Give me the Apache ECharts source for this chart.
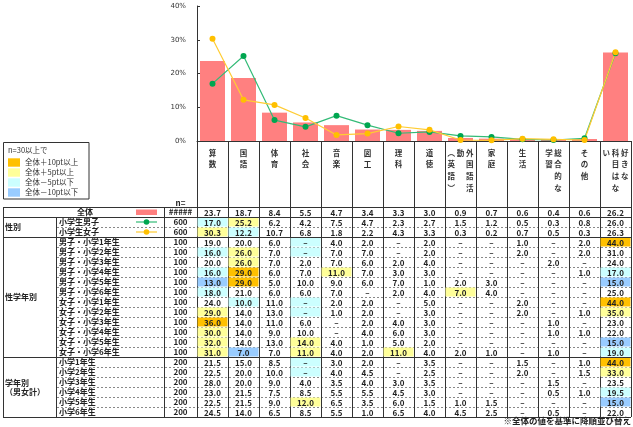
<!DOCTYPE html>
<html>
<head>
<meta charset="utf-8">
<script src="https://cdn.jsdelivr.net/npm/echarts@6/dist/echarts.min.js"></script>
<style>
html, body { margin: 0; padding: 0; background: #fff; }
#main { width: 633px; height: 427px; }
</style>
</head>
<body>
<div id="main"></div>
<script>
"use strict";
var jp = '"Noto Sans CJK JP", sans-serif';

// chart / table data
var subjects = ['算数', '国語', '体育', '社会', '音楽', '図工', '理科', '道徳', '外国語活動\n（英語）', '家庭', '生活', '総合的な学習', 'その他', '好きな\n科目はない'];
var allValues = [23.7, 18.7, 8.4, 5.5, 4.7, 3.4, 3.3, 3.0, 0.9, 0.7, 0.6, 0.4, 0.6, 26.2];
var boysValues = [17.0, 25.2, 6.2, 4.2, 7.5, 4.7, 2.3, 2.7, 1.5, 1.2, 0.5, 0.3, 0.8, 26.0];
var girlsValues = [30.3, 12.2, 10.7, 6.8, 1.8, 2.2, 4.3, 3.3, 0.3, 0.2, 0.7, 0.5, 0.3, 26.3];
var boysByGrade = [
	[19, 20, 6, 0, 4, 2, 0, 2, 0, 0, 1, 0, 2, 44],
	[16, 26, 7, 0, 7, 7, 0, 2, 0, 0, 2, 0, 2, 31],
	[20, 26, 7, 2, 7, 6, 2, 4, 0, 0, 0, 2, 0, 24],
	[16, 29, 6, 7, 11, 7, 3, 3, 0, 0, 0, 0, 1, 17],
	[13, 29, 5, 10, 9, 6, 7, 1, 2, 3, 0, 0, 0, 15],
	[18, 21, 6, 6, 7, 0, 2, 4, 7, 4, 0, 0, 0, 25]
];
var girlsByGrade = [
	[24, 10, 11, 0, 2, 2, 0, 5, 0, 0, 2, 0, 0, 44],
	[29, 14, 13, 0, 1, 2, 0, 3, 0, 0, 2, 0, 1, 35],
	[36, 14, 11, 6, 0, 2, 4, 3, 0, 0, 0, 1, 0, 23],
	[30, 14, 9, 10, 0, 4, 6, 3, 0, 0, 0, 1, 1, 22],
	[32, 14, 13, 14, 4, 1, 5, 2, 0, 0, 0, 0, 0, 15],
	[31, 7, 7, 11, 4, 2, 11, 4, 2, 1, 0, 1, 0, 19]
];
var gradeTotals = [
	[21.5, 15, 8.5, 0, 3, 2, 0, 3.5, 0, 0, 1.5, 0, 1, 44],
	[22.5, 20, 10, 0, 4, 4.5, 0, 2.5, 0, 0, 2, 0, 1.5, 33],
	[28, 20, 9, 4, 3.5, 4, 3, 3.5, 0, 0, 0, 1.5, 0, 23.5],
	[23, 21.5, 7.5, 8.5, 5.5, 5.5, 4.5, 3, 0, 0, 0, 0.5, 1, 19.5],
	[22.5, 21.5, 9, 12, 6.5, 3.5, 6, 1.5, 1, 1.5, 0, 0, 0, 15],
	[24.5, 14, 6.5, 8.5, 5.5, 1, 6.5, 4, 4.5, 2.5, 0, 0.5, 0, 22]
];
var rowLabels = ['全体', '小学生男子', '小学生女子',
	'男子・小学1年生', '男子・小学2年生', '男子・小学3年生', '男子・小学4年生', '男子・小学5年生', '男子・小学6年生',
	'女子・小学1年生', '女子・小学2年生', '女子・小学3年生', '女子・小学4年生', '女子・小学5年生', '女子・小学6年生',
	'小学1年生', '小学2年生', '小学3年生', '小学4年生', '小学5年生', '小学6年生'];
var rowCounts = ['#####', '600', '600',
	'100', '100', '100', '100', '100', '100', '100', '100', '100', '100', '100', '100',
	'200', '200', '200', '200', '200', '200'];
var groupLabels = ['性別', '性学年別', '学年別\n（男女計）'];
var groupRows = [[1, 3], [3, 15], [15, 21]];
var legendTitle = 'n=30以上で';
var legendItems = ['全体＋10pt以上', '全体＋5pt以上', '全体－5pt以下', '全体－10pt以下'];
var legendColors = ['#FFC000', '#FFFF99', '#CCFFFF', '#99CCFF'];
var footnote = '※全体の値を基準に降順並び替え';

// layout
var X0 = 197, X1 = 631, AXIS_Y = 141, TABLE_TOP = 207, ROW_H = 10;
var TABLE_BOTTOM = TABLE_TOP + ROW_H * rowLabels.length;

var tableRows = [allValues, boysValues, girlsValues].concat(boysByGrade, girlsByGrade, gradeTotals);
var cellData = [];
tableRows.forEach(function(row, r) {
	row.forEach(function(v, c) {
		cellData.push([c, r, v]);
	});
});

function cellColor(r, c, v) {
	if (r === 0) return null;
	var d = v - allValues[c];
	if (d >= 9.999) return legendColors[0];
	if (d >= 4.999) return legendColors[1];
	if (d <= -9.999) return legendColors[3];
	if (d <= -4.999) return legendColors[2];
	return null;
}

// vertical (tategaki) label: columns of max 4 chars, right to left
function vertical(name) {
	var cols = [];
	name.split('\n').forEach(function(seg) {
		seg = seg.replace('（', '︵').replace('）', '︶');
		for (var i = 0; i < seg.length; i += 4) cols.push(seg.slice(i, i + 4));
	});
	var n = Math.max.apply(null, cols.map(function(c) { return c.length; }));
	var lines = [];
	for (var r = 0; r < n; r++) {
		lines.push(cols.slice().reverse().map(function(c) { return c[r] || '　'; }).join(' '));
	}
	return lines.join('\n');
}

var graphics = [];
function hline(y, x1, x2, dashed) {
	graphics.push({ type: 'line', z: 100, shape: { x1: x1, y1: y + 0.5, x2: x2, y2: y + 0.5 },
		style: { stroke: dashed ? '#888' : '#333', lineWidth: 1, lineDash: dashed ? [2, 2] : null } });
}
function vline(x, y1, y2) {
	graphics.push({ type: 'line', z: 100, shape: { x1: x + 0.5, y1: y1, x2: x + 0.5, y2: y2 },
		style: { stroke: '#333', lineWidth: 1 } });
}
function text(str, x, y, opts) {
	opts = opts || {};
	graphics.push({ type: 'text', z: 100, x: x, y: y,
		style: { text: str, fill: opts.color || '#222', align: opts.align || 'left', verticalAlign: 'middle',
			font: (opts.weight || 'bold') + ' ' + (opts.size || 8) + 'px ' + jp, lineHeight: opts.lineHeight || 10 } });
}

// legend box
graphics.push({ type: 'rect', z: 90, shape: { x: 3.5, y: 142.5, width: 85.5, height: 56.5 },
	style: { fill: '#fff', stroke: '#333', lineWidth: 1 } });
text(legendTitle, 8, 150.5, { weight: 'normal', size: 7.5, color: '#333' });
legendItems.forEach(function(item, i) {
	var cy = 162.5 + i * 10;
	graphics.push({ type: 'rect', z: 100, shape: { x: 8, y: cy - 4.2, width: 12, height: 8.4 },
		style: { fill: legendColors[i] } });
	text(item, 25, cy, { weight: 'normal', size: 7.5, color: '#333' });
});

// table frame
hline(TABLE_TOP, 3, X1);
hline(TABLE_TOP + ROW_H, 3, X1);
groupRows.forEach(function(g) { hline(TABLE_TOP + ROW_H * g[1], 3, X1); });
for (var r = 1; r < rowLabels.length; r++) {
	var inside = groupRows.some(function(g) { return r > g[0] && r < g[1]; });
	if (inside) hline(TABLE_TOP + ROW_H * r, 57, X0, true);
}
vline(3, TABLE_TOP, TABLE_BOTTOM);
vline(56, TABLE_TOP + ROW_H, TABLE_BOTTOM);
vline(164, TABLE_TOP, TABLE_BOTTOM);
text('n=', 180.5, 202.5, { align: 'center' });
groupLabels.forEach(function(g, i) {
	text(g, 5, TABLE_TOP + ROW_H * (groupRows[i][0] + groupRows[i][1]) / 2, { lineHeight: 9 });
});
// row keys
graphics.push({ type: 'rect', z: 100, shape: { x: 136, y: 209.5, width: 21, height: 5.5 }, style: { fill: '#FF8080' } });
[['#33BB77', '#00A650'], ['#FFCC33', '#FFC000']].forEach(function(c, i) {
	var y = TABLE_TOP + ROW_H * (i + 1.5);
	graphics.push({ type: 'line', z: 100, shape: { x1: 136, y1: y, x2: 157, y2: y }, style: { stroke: c[0], lineWidth: 1.2 } });
	graphics.push({ type: 'circle', z: 101, shape: { cx: 146.5, cy: y, r: 2.8 }, style: { fill: c[1] } });
});
text(footnote, X1, 420.5, { align: 'right', size: 8.5 });

var chart = echarts.init(document.getElementById('main'));
chart.setOption({
	animation: false,
	backgroundColor: '#fff',
	grid: [
		{ left: X0, top: 6, width: X1 - X0, height: AXIS_Y - 6 },
		{ left: X0, top: TABLE_TOP, width: X1 - X0, height: TABLE_BOTTOM - TABLE_TOP }
	],
	xAxis: [{
		type: 'category', gridIndex: 0, data: subjects,
		axisLine: { lineStyle: { color: '#333', width: 1 } },
		axisTick: { show: true, interval: 0, length: TABLE_TOP - AXIS_Y, lineStyle: { color: '#333' } },
		axisLabel: { interval: 0, margin: 6, formatter: vertical, fontFamily: jp, fontSize: 7.5,
			fontWeight: 'bold', lineHeight: 11.7, color: '#333' }
	}, {
		type: 'category', gridIndex: 1, data: subjects,
		axisLine: { show: false }, axisTick: { show: false }, axisLabel: { show: false },
		splitLine: { show: true, interval: 0, lineStyle: { color: '#333', width: 1 } }
	}],
	yAxis: [{
		type: 'value', gridIndex: 0, min: 0, max: 40, interval: 10,
		axisLine: { show: true, lineStyle: { color: '#333' } },
		axisTick: { show: true, inside: true, length: 3, lineStyle: { color: '#333' } },
		splitLine: { show: false },
		axisLabel: { formatter: '{value}%', fontSize: 7, color: '#333', margin: 11, fontFamily: 'DejaVu Sans' }
	}, {
		type: 'category', gridIndex: 1, data: rowLabels, inverse: true,
		axisLine: { show: false }, axisTick: { show: false },
		splitLine: { show: true, interval: 0, lineStyle: { color: '#888', type: [2, 2] } },
		axisLabel: {
			interval: 0, margin: X0 - 3, align: 'left',
			formatter: function(name, i) {
				if (i === 0) return '{gT|}{nmT|' + name + '}{sw|}{n|' + rowCounts[i] + '}';
				return '{g|}{nm|' + name + '}{sw|}{n|' + rowCounts[i] + '}';
			},
			rich: {
				g: { width: 56 },
				gT: { width: 74 },
				nm: { width: 77, align: 'left', fontSize: 8, fontWeight: 'bold', color: '#222', fontFamily: jp },
				nmT: { width: 59, align: 'left', fontSize: 8, fontWeight: 'bold', color: '#222', fontFamily: jp },
				sw: { width: 28 },
				n: { width: 33, align: 'center', fontSize: 8, fontWeight: 'bold', color: '#222', fontFamily: jp }
			}
		}
	}],
	series: [{
		name: '全体', type: 'bar', data: allValues, barWidth: 25,
		itemStyle: { color: '#FF8080' }
	}, {
		name: '小学生男子', type: 'line', data: boysValues, symbol: 'circle', symbolSize: 6,
		lineStyle: { color: '#33BB77', width: 1.2 }, itemStyle: { color: '#00A650' }
	}, {
		name: '小学生女子', type: 'line', data: girlsValues, symbol: 'circle', symbolSize: 6,
		lineStyle: { color: '#FFCC33', width: 1.2 }, itemStyle: { color: '#FFC000' }
	}, {
		name: 'table', type: 'custom', xAxisIndex: 1, yAxisIndex: 1, data: cellData,
		renderItem: function(params, api) {
			var c = api.value(0), r = api.value(1), v = api.value(2);
			var p = api.coord([c, r]);
			var s = api.size([1, 1]);
			var fill = cellColor(r, c, v);
			var children = [];
			if (fill) {
				children.push({ type: 'rect', shape: { x: p[0] - s[0] / 2 + 0.5, y: p[1] - s[1] / 2 + 0.5, width: s[0] - 1, height: s[1] - 1 },
					style: { fill: fill } });
			}
			children.push({ type: 'text', x: p[0], y: p[1] + 0.5,
				style: { text: v === 0 ? '–' : v.toFixed(1), align: 'center', verticalAlign: 'middle',
					font: 'bold 8px ' + jp, fill: '#222' } });
			return { type: 'group', children: children };
		}
	}],
	graphic: graphics
});
</script>
</body>
</html>
